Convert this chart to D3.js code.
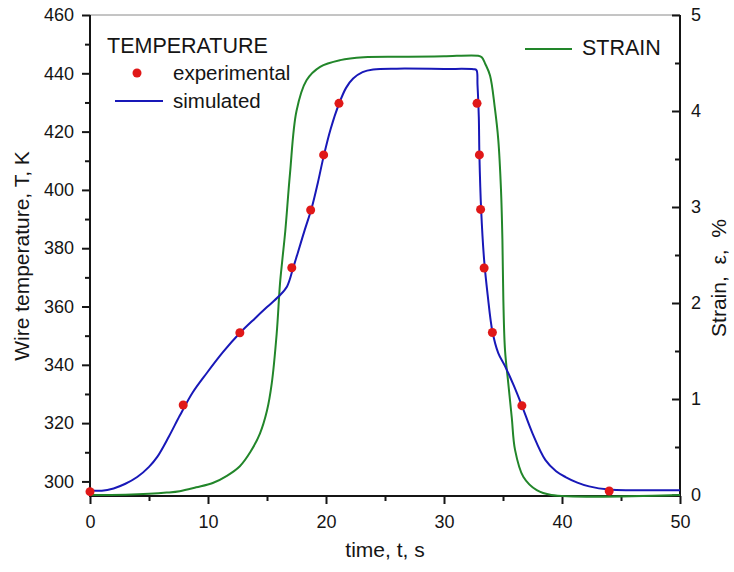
<!DOCTYPE html>
<html>
<head>
<meta charset="utf-8">
<script src="https://cdn.jsdelivr.net/npm/d3@7"></script>
<style>
    body { margin: 0; background: #fff; }
    svg { font-family: "Liberation Sans", Arial, sans-serif; }
</style>
</head>
<body>
<div id="chart"></div>
<script>
/*jslint browser: true*/

// simulated temperature curve (time s, temperature K)
var simTime = [0, 1, 2, 3, 4, 5, 5.7, 6.7, 7.6, 8.7, 9.9, 11.3, 12.7, 14.0, 15.0, 16.0, 16.7,
    17.2, 17.6, 18.2, 18.8, 19.3, 19.8, 20.4, 21.1, 21.7, 22.3, 23.1, 24, 26, 30, 32.5, 32.75,
    32.84, 32.95, 33.0, 33.15, 33.4, 33.7, 34.1, 34.6, 35.2, 35.9, 36.6, 37.5, 38.6, 39.5,
    40.3, 41.3, 42.3, 44, 46, 50];
var simTemp = [297.0, 296.8, 297.6, 299.2, 301.5, 305.0, 308.4, 315.5, 322.5, 330.5, 337.2, 344.5, 350.9, 356.0, 359.8, 363.5, 366.9,
    373.0, 378.3, 386.3, 394.0, 402.3, 411.5, 421.0, 429.5, 435.0, 438.2, 440.4, 441.3, 441.6, 441.5, 441.4, 441.1,
    436.0, 425.0, 412.0, 393.0, 376.0, 364.0, 351.5, 344.0, 339.3, 333.0, 326.0, 316.5, 307.3, 303.5,
    301.5, 299.6, 298.3, 297.2, 297.0, 297.0];

// experimental temperature points
var expTime = [0, 7.9, 12.7, 17.1, 18.7, 19.8, 21.1, 32.8, 33.0, 33.1, 33.4, 34.1, 36.6, 44.0];
var expTemp = [296.5, 326.2, 351.0, 373.3, 393.1, 412.0, 429.7, 429.7, 412.0, 393.3, 373.2, 351.1, 326.0, 296.7];

// strain curve (time s, strain %)
var strainTime = [0, 3, 5, 6.5, 7.6, 9, 10.4, 11.6, 12.7, 13.6, 14.4, 15.0, 15.4, 15.82, 16.1,
    16.3, 16.55, 16.95, 17.5, 18.35, 19.5, 21.2, 23.2, 27, 30, 32.9, 33.2, 33.5, 33.9, 34.3, 34.6,
    34.83, 34.95, 35.03, 35.17, 35.45, 35.74, 36.02, 36.72, 37.86, 39.1, 50];
var strainVal = [0, 0.003, 0.012, 0.025, 0.04, 0.08, 0.125, 0.2, 0.3, 0.45, 0.64, 0.88, 1.16, 1.68, 2.2,
    2.45, 2.75, 3.35, 4.0, 4.32, 4.46, 4.53, 4.56, 4.565, 4.57, 4.575, 4.56, 4.49, 4.37, 4.04, 3.7,
    3.18, 2.66, 2.03, 1.51, 1.16, 0.81, 0.47, 0.19, 0.05, 0, 0];

var timeTicks = [0, 10, 20, 30, 40, 50];
var tempTicks = [300, 320, 340, 360, 380, 400, 420, 440, 460];
var strainTicks = [0, 1, 2, 3, 4, 5];

(function (d3) {
    'use strict';

    var width = 734, height = 572,
        left = 90, right = 680, top = 15, bottom = 496,
        blue = '#1818b8', green = '#22862a', red = '#e01818', ink = '#151515';

    var svg = d3.select('#chart').append('svg')
        .attr('width', width)
        .attr('height', height);

    var x = d3.scaleLinear().domain([0, 50]).range([left, right]);
    var yT = d3.scaleLinear().domain([295, 460]).range([bottom, top]);
    var yS = d3.scaleLinear().domain([0, 5]).range([bottom - 1, top]);

    function styleAxis(g, size) {
        g.selectAll('.domain').remove();
        g.selectAll('line').attr('stroke', ink).attr('stroke-width', 2);
        g.selectAll('text').attr('fill', ink).style('font-size', size + 'px');
    }

    // top frame line
    svg.append('line')
        .attr('x1', left).attr('x2', right)
        .attr('y1', top).attr('y2', top)
        .attr('stroke', '#8a8a8a').attr('stroke-width', 1);

    // minor ticks
    var gx = svg.append('g').attr('transform', 'translate(0,' + bottom + ')');
    gx.call(d3.axisBottom(x).tickValues(d3.range(5, 50, 10)).tickSize(5).tickFormat(''));
    styleAxis(gx, 17);
    var gy = svg.append('g').attr('transform', 'translate(' + left + ',0)');
    gy.call(d3.axisLeft(yT).tickValues(d3.range(310, 460, 20)).tickSize(5).tickFormat(''));
    styleAxis(gy, 17);
    var gr = svg.append('g').attr('transform', 'translate(' + right + ',0)');
    gr.call(d3.axisRight(yS).tickValues(d3.range(0.5, 5, 1)).tickSize(-5).tickFormat(''));
    styleAxis(gr, 17);

    // major axes
    var ax = svg.append('g').attr('transform', 'translate(0,' + bottom + ')')
        .call(d3.axisBottom(x).tickValues(timeTicks).tickSize(8).tickPadding(11));
    styleAxis(ax, 18);
    var ay = svg.append('g').attr('transform', 'translate(' + left + ',0)')
        .call(d3.axisLeft(yT).tickValues(tempTicks).tickSize(8).tickPadding(8));
    styleAxis(ay, 18);
    var ar = svg.append('g').attr('transform', 'translate(' + right + ',0)')
        .call(d3.axisRight(yS).tickValues(strainTicks).tickFormat(d3.format('d'))
            .tickSizeInner(-8).tickSizeOuter(0).tickPadding(11));
    styleAxis(ar, 18);

    // axis spines
    svg.append('path')
        .attr('d', 'M' + left + ',' + top + 'V' + bottom + 'H' + right + 'V' + top)
        .attr('fill', 'none').attr('stroke', ink).attr('stroke-width', 2);

    // data lines
    var strainLine = d3.line()
        .x(function (d) { return x(d[0]); })
        .y(function (d) { return yS(d[1]); })
        .curve(d3.curveCatmullRom.alpha(0.5));
    var tempLine = d3.line()
        .x(function (d) { return x(d[0]); })
        .y(function (d) { return yT(d[1]); })
        .curve(d3.curveCatmullRom.alpha(0.5));

    svg.append('path')
        .datum(d3.zip(strainTime, strainVal))
        .attr('d', strainLine)
        .attr('fill', 'none').attr('stroke', green).attr('stroke-width', 2);

    svg.append('path')
        .datum(d3.zip(simTime, simTemp))
        .attr('d', tempLine)
        .attr('fill', 'none').attr('stroke', blue).attr('stroke-width', 2);

    svg.selectAll('circle.exp')
        .data(d3.zip(expTime, expTemp)).enter()
      .append('circle')
        .attr('class', 'exp')
        .attr('cx', function (d) { return x(d[0]); })
        .attr('cy', function (d) { return yT(d[1]); })
        .attr('r', 4.5)
        .attr('fill', red);

    // axis titles
    svg.append('text')
        .attr('x', (left + right) / 2).attr('y', 557)
        .attr('text-anchor', 'middle')
        .attr('fill', ink).style('font-size', '21px')
        .text('time, t, s');
    svg.append('text')
        .attr('transform', 'translate(29,256) rotate(-90)')
        .attr('text-anchor', 'middle')
        .attr('fill', ink).style('font-size', '21px')
        .text('Wire temperature, T, K');
    svg.append('text')
        .attr('transform', 'translate(726,278) rotate(-90)')
        .attr('text-anchor', 'middle')
        .attr('fill', ink).style('font-size', '21px')
        .style('white-space', 'pre')
        .text('Strain,  ε,  %');

    // legends
    var leg = svg.append('g').style('font-size', '20.5px').attr('fill', ink);
    leg.append('text').attr('x', 107).attr('y', 53).style('font-size', '21.5px').text('TEMPERATURE');
    leg.append('circle').attr('cx', 137).attr('cy', 73).attr('r', 4.5).attr('fill', red);
    leg.append('text').attr('x', 173).attr('y', 80).text('experimental');
    leg.append('line').attr('x1', 115).attr('x2', 163).attr('y1', 101).attr('y2', 101)
        .attr('stroke', blue).attr('stroke-width', 2);
    leg.append('text').attr('x', 173).attr('y', 108).text('simulated');
    leg.append('line').attr('x1', 525).attr('x2', 572).attr('y1', 49).attr('y2', 49)
        .attr('stroke', green).attr('stroke-width', 2);
    leg.append('text').attr('x', 582).attr('y', 55).style('font-size', '21.5px').text('STRAIN');

}(window.d3));
</script>
</body>
</html>
